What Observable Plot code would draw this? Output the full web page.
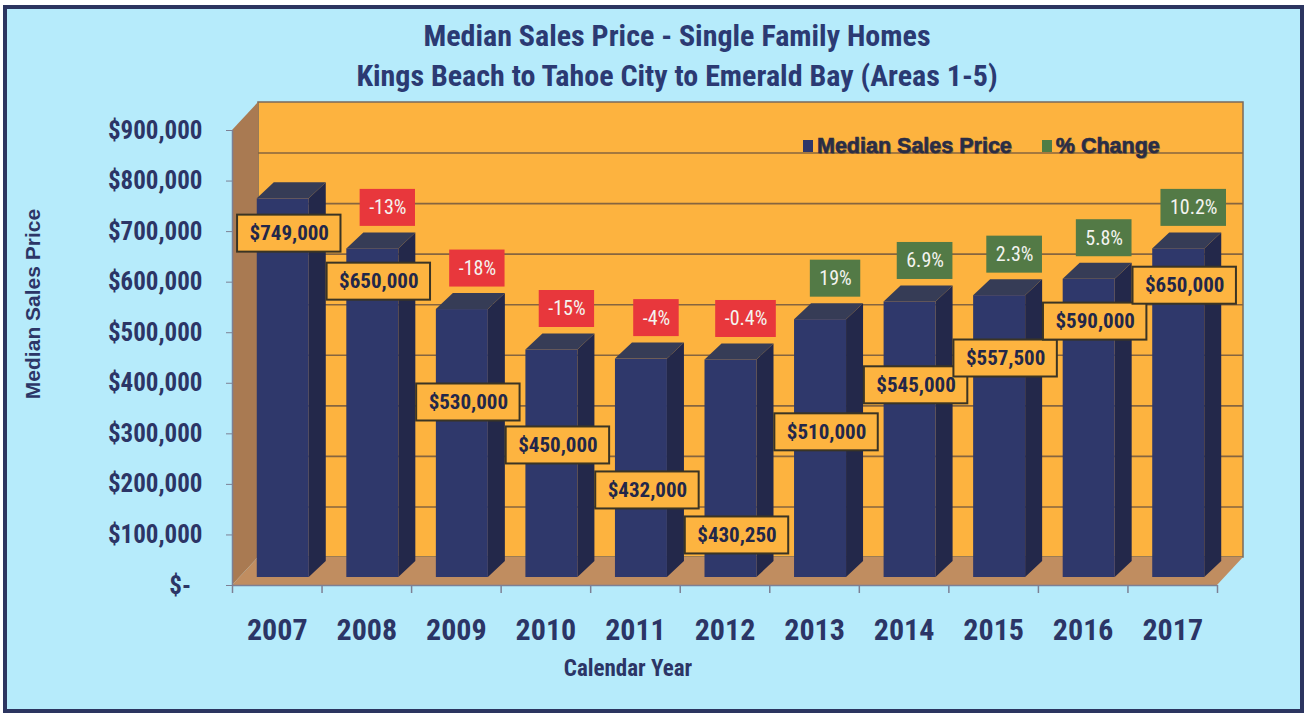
<!DOCTYPE html>
<html>
<head>
<meta charset="utf-8">
<script src="https://cdn.jsdelivr.net/npm/d3@7"></script>
<script src="https://cdn.jsdelivr.net/npm/@observablehq/plot@0.6"></script>
<style>
  html, body { margin: 0; padding: 0; background: #ffffff; }
  body { width: 1306px; height: 715px; position: relative; overflow: hidden; }
  #frame { position: absolute; left: 3px; top: 5px; width: 1293px; height: 700px;
           border: 4px solid #2c3560; background: #b6ebfb; }
  .narrow { font-family: "Liberation Sans Narrow", "Roboto Condensed", "DejaVu Sans Condensed", sans-serif; }
  .title { position: absolute; left: 0; width: 1354px; text-align: center; font-weight: bold;
           color: #2b3a73; font-size: 30px; line-height: 1; white-space: nowrap; }
  #legend { position: absolute; left: 803px; top: 134px; font-family: "Liberation Sans", Arial, sans-serif;
            font-weight: bold; font-size: 21.5px; color: #2a2d45; white-space: nowrap;
            -webkit-text-stroke: 0.6px #2a2d45;
            text-shadow: 1px 1px 0 rgba(40,40,60,0.35); }
  #legend .sw { display: inline-block; width: 10px; height: 12px; margin-right: 4px; vertical-align: 1px; }
  #chart { position: absolute; left: 0; top: 0; }
</style>
</head>
<body>
<div id="frame"></div>
<div class="title narrow" style="top:21px">Median Sales Price - Single Family Homes</div>
<div class="title narrow" style="top:61px">Kings Beach to Tahoe City to Emerald Bay (Areas 1-5)</div>
<div id="chart"></div>
<div id="legend"><span class="sw" style="background:#2e3769"></span>Median Sales Price<span style="display:inline-block;width:30px"></span><span class="sw" style="background:#4f7d45"></span>% Change</div>
<script>
// ---------------- data ----------------
const years = [2007, 2008, 2009, 2010, 2011, 2012, 2013, 2014, 2015, 2016, 2017];
const medianPrice = [749000, 650000, 530000, 450000, 432000, 430250, 510000, 545000, 557500, 590000, 650000];
const pctYears = [2008, 2009, 2010, 2011, 2012, 2013, 2014, 2015, 2016, 2017];
const pctChange = [-13, -18, -15, -4, -0.4, 19, 6.9, 2.3, 5.8, 10.2];
const yTicks = [0, 100000, 200000, 300000, 400000, 500000, 600000, 700000, 800000, 900000];
// where each price label sits (in dollars on the y scale), as placed in the original
const priceLabelAt = [696000, 601000, 362000, 277000, 188000, 99000, 303000, 396000, 449000, 522000, 593000];

// ---------------- layout ----------------
const W = 1306, H = 715, mL = 232, mR = 89, mT = 130, mB = 130;
const xDom = [2006.5, 2017.5], yDom = [0, 900000];
const fx = (xDom[1] - xDom[0]) / (W - mL - mR);
const fy = (yDom[1] - yDom[0]) / (H - mT - mB);
const PX = p => p * fx, PY = p => p * fy;
const WX = 26, WY = 28;          // wall depth (px)
const BL = -20, BR = 32, LIFT = 8, BDX = 17, BDY = 16; // bar geometry (px)

const narrow = '"Liberation Sans Narrow", "Roboto Condensed", "DejaVu Sans Condensed", sans-serif';
const cv = document.createElement("canvas").getContext("2d");
function textW(t, font) { cv.font = font; return cv.measureText(t).width; }

const bars = years.map((yr, i) => ({
  yr, v: medianPrice[i],
  xl: yr + PX(BL), xr: yr + PX(BR),
  y0: PY(LIFT), yt: medianPrice[i] + PY(LIFT)
}));
const side = bars.flatMap(b => [
  {z: b.yr, x: b.xr, y1: b.y0, y2: b.yt},
  {z: b.yr, x: b.xr + PX(BDX), y1: b.y0 + PY(BDY), y2: b.yt + PY(BDY)}
]);
const tops = bars.flatMap(b => [
  {z: b.yr, x: b.xl, y1: b.yt, y2: b.yt},
  {z: b.yr, x: b.xl + PX(BDX), y1: b.yt, y2: b.yt + PY(BDY)},
  {z: b.yr, x: b.xr, y1: b.yt, y2: b.yt + PY(BDY)},
  {z: b.yr, x: b.xr + PX(BDX), y1: b.yt + PY(BDY), y2: b.yt + PY(BDY)}
]);
const floor = [
  {x: xDom[0], y1: 0, y2: 0},
  {x: xDom[0] + PX(WX), y1: 0, y2: PY(WY)},
  {x: xDom[1], y1: 0, y2: PY(WY)},
  {x: xDom[1] + PX(WX), y1: PY(WY), y2: PY(WY)}
];
const leftWall = [
  {x: xDom[0], y1: 0, y2: yDom[1]},
  {x: xDom[0] + PX(WX), y1: PY(WY), y2: yDom[1] + PY(WY)}
];
const backWall = [{x1: xDom[0] + PX(WX), x2: xDom[1] + PX(WX), y1: PY(WY), y2: yDom[1] + PY(WY)}];

const priceFont = `bold 21px ${narrow}`;
const priceLabels = years.map((yr, i) => {
  const t = "$" + d3.format(",")(medianPrice[i]);
  const w = textW(t, priceFont) + 24;
  const xc = yr + PX(12), yc = priceLabelAt[i];
  return {t, xc, yc, x1: xc - PX(w / 2), x2: xc + PX(w / 2), y1: yc - PY(18.5), y2: yc + PY(18.5)};
});
const pctFont = `20px ${narrow}`;
const pctLabels = pctYears.map((yr, i) => {
  const v = pctChange[i];
  const t = v + "%";
  const w = textW(t, pctFont) + 18;
  const v0 = medianPrice[years.indexOf(yr)];
  const xc = yr + PX(21), yc = v0 + PY(49);
  return {t, v, xc, yc, x1: xc - PX(w / 2), x2: xc + PX(w / 2), y1: yc - PY(18.5), y2: yc + PY(18.5)};
});

const plot = Plot.plot({
  width: W, height: H,
  marginLeft: mL, marginRight: mR, marginTop: mT, marginBottom: mB,
  style: {background: "transparent", fontFamily: narrow, overflow: "visible"},
  x: {type: "linear", domain: xDom, axis: null},
  y: {type: "linear", domain: yDom, axis: null},
  marks: [
    // 3D box
    Plot.rect(backWall, {x1: "x1", x2: "x2", y1: "y1", y2: "y2", fill: "#fdb33f", stroke: "#7a6a5c", strokeWidth: 1.5}),
    Plot.areaY(leftWall, {x: "x", y1: "y1", y2: "y2", fill: "#a97a52"}),
    Plot.areaY(floor, {x: "x", y1: "y1", y2: "y2", fill: "#c08d60"}),
    Plot.ruleY(yTicks.filter(v => v > 0 && v < yDom[1]), {
      y: d => d + PY(WY), x1: xDom[0] + PX(WX), x2: xDom[1] + PX(WX), stroke: "#86653f", strokeWidth: 1.6}),
    Plot.ruleY([0], {x1: xDom[0], x2: xDom[1], stroke: "#7d8094", strokeWidth: 1.5}),
    Plot.ruleX([xDom[0]], {y1: 0, y2: yDom[1], stroke: "#7d8094", strokeWidth: 1.5}),
    Plot.ruleX(d3.range(xDom[0], xDom[1] + 0.5, 1), {y1: 0, y2: -PY(8), stroke: "#7d8094", strokeWidth: 1.5}),
    // bars
    Plot.areaY(side, {x: "x", y1: "y1", y2: "y2", z: "z", fill: "#23284a"}),
    Plot.areaY(tops, {x: "x", y1: "y1", y2: "y2", z: "z", fill: "#363c56"}),
    Plot.rect(bars, {x1: "xl", x2: "xr", y1: "y0", y2: "yt", fill: "#2f386b"}),
    // axes
    Plot.axisY(yTicks, {tickSize: 6, tickPadding: 24, stroke: "#7d8094",
      tickFormat: d => d === 0 ? "$-\u00a0\u00a0" : "$" + d3.format(",")(d),
      fontSize: 25, fontWeight: "bold", fill: "#2c3566", label: null}),
    Plot.axisX(years, {tickSize: 0, tickPadding: 33, tickFormat: d => String(d),
      fontSize: 30, fontWeight: "bold", fill: "#2b3566", label: null}),
    Plot.text(["Median Sales Price"], {frameAnchor: "left", dx: -199, dy: -54, rotate: -90, textAnchor: "middle",
      fontFamily: '"Liberation Sans", Arial, sans-serif', fontSize: 21, fontWeight: "bold", fill: "#2c3566"}),
    Plot.text(["Calendar Year"], {frameAnchor: "bottom", dx: -97, dy: 90,
      fontSize: 23, fontWeight: "bold", fill: "#2c3566"}),
    // % change labels
    Plot.rect(pctLabels, {x1: "x1", x2: "x2", y1: "y1", y2: "y2", fill: d => d.v < 0 ? "#e8373c" : "#537a46"}),
    Plot.text(pctLabels, {x: "xc", y: "yc", text: "t", fontSize: 20, fill: "#f4f4f0"}),
    // price labels
    Plot.rect(priceLabels, {x1: "x1", x2: "x2", y1: "y1", y2: "y2", fill: "#fdb440", stroke: "#3a3424", strokeWidth: 2}),
    Plot.text(priceLabels, {x: "xc", y: "yc", text: "t", fontSize: 21, fontWeight: "bold", fill: "#22274a"})
  ]
});
document.getElementById("chart").appendChild(plot);
</script>
</body>
</html>
